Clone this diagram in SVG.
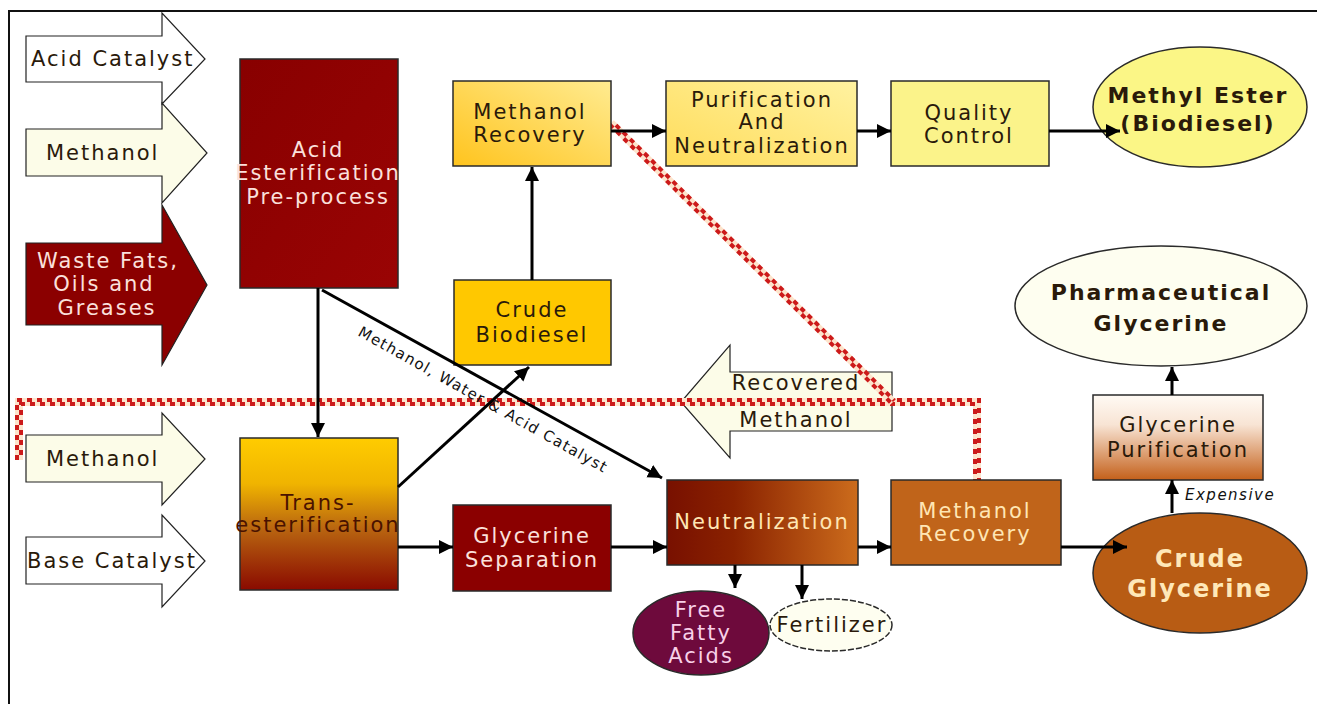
<svg xmlns="http://www.w3.org/2000/svg" width="1317" height="704" viewBox="0 0 1317 704">
<style>
.t{font-family:"DejaVu Sans",Verdana,sans-serif;font-size:21px;letter-spacing:2px;text-anchor:middle}
.ts{text-anchor:start}
.dk{fill:#2a1a0a}
.lt{fill:#fbe0dc}
.cr{fill:#ffe6b4}
.box{stroke:#2a2a2a;stroke-width:1.5}
.ar{stroke:#222;stroke-width:1.2}
.la{stroke:#000;stroke-width:3;fill:none;marker-end:url(#ah)}
.chkb{stroke:#fde4cc;stroke-width:8;fill:none}
.chk{stroke:#cc1a1a;stroke-width:4;fill:none;stroke-dasharray:5 5}
.chk2{stroke:#cc1a1a;stroke-width:4;fill:none;stroke-dasharray:5 5;stroke-dashoffset:5}
</style>
<defs>
<marker id="ah" markerUnits="userSpaceOnUse" markerWidth="16" markerHeight="16" refX="14" refY="7" orient="auto">
<path d="M0,0 L14,7 L0,14 z" fill="#000"/>
</marker>
<linearGradient id="gTrans" x1="0" y1="0" x2="0" y2="1">
<stop offset="0" stop-color="#ffcc00"/>
<stop offset="0.3" stop-color="#f0b400"/>
<stop offset="0.6" stop-color="#b86410"/>
<stop offset="1" stop-color="#8a0a00"/>
</linearGradient>
<linearGradient id="gMR" x1="0" y1="1" x2="1" y2="0">
<stop offset="0" stop-color="#ffc41e"/>
<stop offset="1" stop-color="#ffeb90"/>
</linearGradient>
<linearGradient id="gPur" x1="0" y1="1" x2="1" y2="0">
<stop offset="0" stop-color="#ffdc5a"/>
<stop offset="1" stop-color="#fff2a0"/>
</linearGradient>
<linearGradient id="gNeut" x1="0" y1="0" x2="1" y2="0">
<stop offset="0" stop-color="#781000"/>
<stop offset="0.35" stop-color="#8a2200"/>
<stop offset="1" stop-color="#cc6c1c"/>
</linearGradient>
<linearGradient id="gGP" x1="0" y1="0" x2="0" y2="1">
<stop offset="0" stop-color="#fffaf4"/>
<stop offset="0.35" stop-color="#f8e4d4"/>
<stop offset="1" stop-color="#c4601a"/>
</linearGradient>
<linearGradient id="gAE" x1="0" y1="0" x2="1" y2="1">
<stop offset="0" stop-color="#880000"/>
<stop offset="1" stop-color="#9a0404"/>
</linearGradient>
</defs>
<rect width="1317" height="704" fill="#fff"/>
<rect x="9" y="11" width="1320" height="710" fill="none" stroke="#111" stroke-width="2"/>

<g id="in-acid-catalyst">
<polygon class="ar" fill="#fff" points="26,36 162,36 162,13 205,59 162,104 162,82 26,82"/>
<text class="t ts dk" x="31" y="66">Acid Catalyst</text>
</g>
<g id="in-methanol-1">
<polygon class="ar" fill="#fcfce8" points="26,129 162,129 162,103 207,153 162,203 162,176 26,176"/>
<text class="t ts dk" x="46" y="160">Methanol</text>
</g>
<g id="in-waste-fats">
<polygon class="ar" fill="#8b0000" points="26,243 162,243 162,205 207,285 162,365 162,325 26,325"/>
<text class="t lt" x="108" y="268">Waste Fats,</text>
<text class="t lt" x="104" y="291">Oils and</text>
<text class="t lt" x="107" y="315">Greases</text>
</g>
<g id="in-methanol-2">
<polygon class="ar" fill="#fcfce8" points="26,435 162,435 162,413 205,459 162,505 162,482 26,482"/>
<text class="t ts dk" x="46" y="466">Methanol</text>
</g>
<g id="in-base-catalyst">
<polygon class="ar" fill="#fff" points="26,537 162,537 162,515 205,561 162,607 162,584 26,584"/>
<text class="t ts dk" x="27" y="568">Base Catalyst</text>
</g>
<g id="recovered-methanol">
<polygon class="ar" fill="#fcfce8" points="892,372 730,372 730,345 681,402 730,458 730,431 892,431"/>
<text class="t dk" x="796" y="390">Recovered</text>
<text class="t dk" x="796" y="427">Methanol</text>
</g>

<g id="checker-lines">
<polyline class="chkb" points="19,460 19,402 977,402 977,480"/>
<polyline class="chk" points="17,460 17,400 979,400 979,480"/>
<polyline class="chk2" points="21,460 21,404 975,404 975,480"/>
<line class="chkb" x1="611" y1="123" x2="893" y2="402"/>
<line class="chk" x1="609.6" y1="124.4" x2="891.6" y2="403.4"/>
<line class="chk2" x1="612.4" y1="121.6" x2="894.4" y2="400.6"/>
</g>

<g id="acid-esterification">
<rect class="box" x="240" y="59" width="158" height="229" fill="url(#gAE)"/>
<text class="t lt" x="318" y="157">Acid</text>
<text class="t lt" x="318" y="180">Esterification</text>
<text class="t lt" x="318" y="204">Pre-process</text>
</g>
<g id="transesterification">
<rect class="box" x="240" y="438" width="158" height="152" fill="url(#gTrans)"/>
<text class="t" fill="#4a1200" x="318" y="510">Trans-</text>
<text class="t" fill="#4a1200" x="318" y="532">esterification</text>
</g>
<g id="crude-biodiesel">
<rect class="box" x="454" y="280" width="157" height="85" fill="#ffc800"/>
<text class="t dk" x="532" y="317">Crude</text>
<text class="t dk" x="532" y="342">Biodiesel</text>
</g>
<g id="methanol-recovery-top">
<rect class="box" x="453" y="81" width="158" height="85" fill="url(#gMR)"/>
<text class="t dk" x="530" y="119">Methanol</text>
<text class="t dk" x="530" y="142">Recovery</text>
</g>
<g id="purification">
<rect class="box" x="666" y="81" width="191" height="85" fill="url(#gPur)"/>
<text class="t dk" x="762" y="107">Purification</text>
<text class="t dk" x="762" y="129">And</text>
<text class="t dk" x="762" y="153">Neutralization</text>
</g>
<g id="quality-control">
<rect class="box" x="891" y="81" width="158" height="85" fill="#fbf38a"/>
<text class="t dk" x="969" y="120">Quality</text>
<text class="t dk" x="969" y="143">Control</text>
</g>
<g id="methyl-ester">
<ellipse class="box" cx="1200" cy="107" rx="107" ry="60" fill="#fbf686"/>
<text class="t dk" style="font-size:22px;font-weight:bold" x="1198" y="103">Methyl Ester</text>
<text class="t dk" style="font-size:22px;font-weight:bold" x="1198" y="131">(Biodiesel)</text>
</g>
<g id="pharma-glycerine">
<ellipse class="box" cx="1161" cy="306" rx="146" ry="60" fill="#fefef0"/>
<text class="t dk" style="font-size:22px;font-weight:bold" x="1161" y="300">Pharmaceutical</text>
<text class="t dk" style="font-size:22px;font-weight:bold" x="1161" y="331">Glycerine</text>
</g>
<g id="glycerine-purification">
<rect class="box" x="1093" y="395" width="170" height="85" fill="url(#gGP)"/>
<text class="t dk" x="1178" y="432">Glycerine</text>
<text class="t dk" x="1178" y="457">Purification</text>
</g>
<g id="glycerine-separation">
<rect class="box" x="453" y="505" width="158" height="86" fill="#8b0000"/>
<text class="t lt" x="532" y="543">Glycerine</text>
<text class="t lt" x="532" y="567">Separation</text>
</g>
<g id="neutralization">
<rect class="box" x="667" y="480" width="191" height="85" fill="url(#gNeut)"/>
<text class="t cr" x="762" y="529">Neutralization</text>
</g>
<g id="methanol-recovery-bottom">
<rect class="box" x="891" y="480" width="170" height="85" fill="#c0641a"/>
<text class="t cr" x="975" y="518">Methanol</text>
<text class="t cr" x="975" y="541">Recovery</text>
</g>
<g id="crude-glycerine">
<ellipse class="box" cx="1200" cy="573" rx="107" ry="60" fill="#b85c14"/>
<text class="t" fill="#ffe8b8" style="font-size:24px;font-weight:bold" x="1200" y="567">Crude</text>
<text class="t" fill="#ffe8b8" style="font-size:24px;font-weight:bold" x="1200" y="597">Glycerine</text>
</g>
<g id="free-fatty-acids">
<ellipse class="box" cx="701" cy="633" rx="68" ry="42" fill="#6e0a3c"/>
<text class="t" fill="#f8d0e8" x="701" y="617">Free</text>
<text class="t" fill="#f8d0e8" x="701" y="640">Fatty</text>
<text class="t" fill="#f8d0e8" x="701" y="663">Acids</text>
</g>
<g id="fertilizer">
<ellipse class="box" cx="831" cy="625" rx="61" ry="26" fill="#fefef0" stroke-dasharray="6 2"/>
<text class="t dk" x="832" y="632">Fertilizer</text>
</g>

<g id="connectors">
<line class="la" x1="318" y1="288" x2="318" y2="437"/>
<line class="la" x1="322" y1="290" x2="662" y2="478"/>
<line class="la" x1="398" y1="487" x2="529" y2="367"/>
<line class="la" x1="532" y1="280" x2="532" y2="167"/>
<line class="la" x1="611" y1="131" x2="666" y2="131"/>
<line class="la" x1="857" y1="131" x2="891" y2="131"/>
<line class="la" x1="1049" y1="131" x2="1120" y2="131"/>
<line class="la" x1="398" y1="547" x2="453" y2="547"/>
<line class="la" x1="611" y1="547" x2="667" y2="547"/>
<line class="la" x1="858" y1="547" x2="891" y2="547"/>
<line class="la" x1="1061" y1="547" x2="1127" y2="547"/>
<line class="la" x1="735" y1="565" x2="735" y2="588"/>
<line class="la" x1="802" y1="565" x2="802" y2="599"/>
<line class="la" x1="1172" y1="513" x2="1172" y2="480"/>
<line class="la" x1="1172" y1="395" x2="1172" y2="367"/>
<text x="0" y="0" transform="translate(357,335) rotate(29.2)" style="font-family:'DejaVu Sans',Verdana,sans-serif;font-size:15px;letter-spacing:1.3px" fill="#111">Methanol, Water &amp; Acid Catalyst</text>
<text x="1185" y="500" style="font-family:'DejaVu Sans',Verdana,sans-serif;font-size:15px;font-style:italic;letter-spacing:1.5px" fill="#111">Expensive</text>
</g>
</svg>
